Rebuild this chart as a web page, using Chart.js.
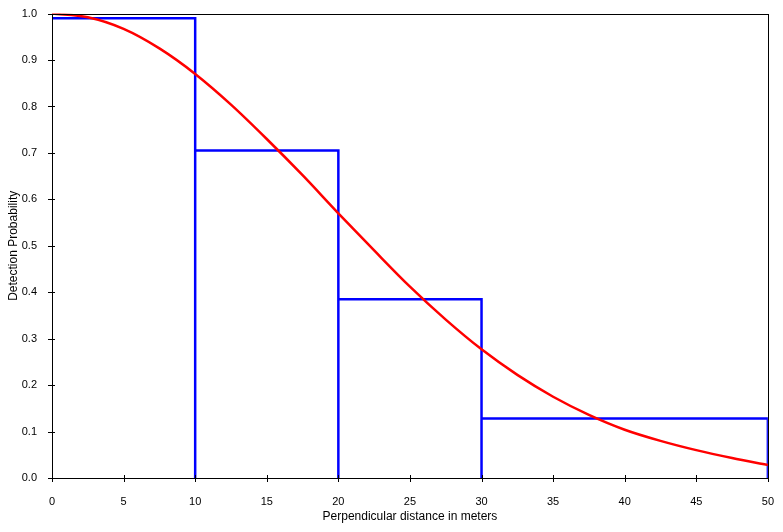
<!DOCTYPE html>
<html><head><meta charset="utf-8">
<script src="https://cdn.jsdelivr.net/npm/chart.js@4/dist/chart.umd.min.js"></script>
<style>html,body{margin:0;padding:0;background:#fff}canvas{display:block}</style>
</head><body>
<canvas id="c" width="783" height="532"></canvas>
<script>
// Distances (m) and fitted detection probability (red curve)
const curveX = [0,2.5,5,7.5,10,12.5,15,17.5,20,22.5,25,27.5,30,32.5,35,37.5,40,42.5,45,47.5,50];
const curveY = [1.0,0.992,0.967,0.925,0.870,0.804,0.730,0.652,0.570,0.490,0.412,0.341,0.277,0.222,0.175,0.136,0.104,0.080,0.060,0.043,0.028];
// Histogram bins (blue)
const binEdges = [0,10,20,30,50];
const binHeights = [0.99,0.705,0.385,0.128];
const xTicks = [0,5,10,15,20,25,30,35,40,45,50];
const yTicks = [0,0.1,0.2,0.3,0.4,0.5,0.6,0.7,0.8,0.9,1.0];

const curvePts = curveX.map((x,i)=>({x:x,y:curveY[i]}));
const histPts = [];
for (let i=0;i<binHeights.length;i++){
  histPts.push({x:binEdges[i],y:binHeights[i]});
  histPts.push({x:binEdges[i+1],y:binHeights[i]});
  histPts.push({x:binEdges[i+1],y:0});
  if (i<binHeights.length-1) histPts.push({x:binEdges[i+1],y:binHeights[i+1]});
}

const FONT = {family:'"Liberation Sans", Arial, sans-serif', size:11};

const frame = {
  id:'frame',
  afterDatasetsDraw(chart){
    const ctx=chart.ctx, a=chart.chartArea, xs=chart.scales.x, ys=chart.scales.y;
    ctx.save();
    ctx.strokeStyle='#000'; ctx.lineWidth=1;
    ctx.strokeRect(Math.round(a.left)+0.5, Math.round(a.top)+0.5, Math.round(a.right-a.left), Math.round(a.bottom-a.top));
    ctx.beginPath();
    xTicks.forEach(v=>{const px=Math.round(xs.getPixelForValue(v))+0.5; ctx.moveTo(px,a.bottom-3); ctx.lineTo(px,a.bottom+4);});
    yTicks.forEach(v=>{const py=Math.round(ys.getPixelForValue(v))+0.5; ctx.moveTo(a.left-4,py); ctx.lineTo(a.left+3,py);});
    ctx.stroke();
    ctx.restore();
  }
};

new Chart(document.getElementById('c'),{
  type:'scatter',
  data:{datasets:[
    {data:curvePts, showLine:true, borderColor:'#ff0000', borderWidth:2.5, pointRadius:0, cubicInterpolationMode:'monotone', order:0},
    {data:histPts, showLine:true, borderColor:'#0000ff', borderWidth:2.5, pointRadius:0, tension:0, order:1}
  ]},
  options:{
    responsive:false, animation:false, devicePixelRatio:1,
    layout:{padding:{top:12,right:13,left:0,bottom:0}},
    plugins:{legend:{display:false},tooltip:{enabled:false}},
    scales:{
      x:{type:'linear',min:0,max:50,
        afterFit(s){s.height=54;},
        afterBuildTicks(s){s.ticks=xTicks.map(v=>({value:v}));},
        grid:{display:false},
        border:{display:false},
        ticks:{font:FONT,color:'#000',padding:9,maxRotation:0,callback:v=>String(v)},
        title:{display:true,text:'Perpendicular distance in meters',font:{family:FONT.family,size:12},color:'#000',padding:{top:4,bottom:8}}
      },
      y:{type:'linear',min:0,max:1,
        afterFit(s){s.width=52;},
        afterBuildTicks(s){s.ticks=yTicks.map(v=>({value:v}));},
        grid:{display:false},
        border:{display:false},
        ticks:{font:FONT,color:'#000',padding:7,callback:v=>v.toFixed(1)},
        title:{display:true,text:'Detection Probability',font:{family:FONT.family,size:12},color:'#000',padding:{top:6,bottom:4}}
      }
    }
  },
  plugins:[frame]
});
</script>
</body></html>
